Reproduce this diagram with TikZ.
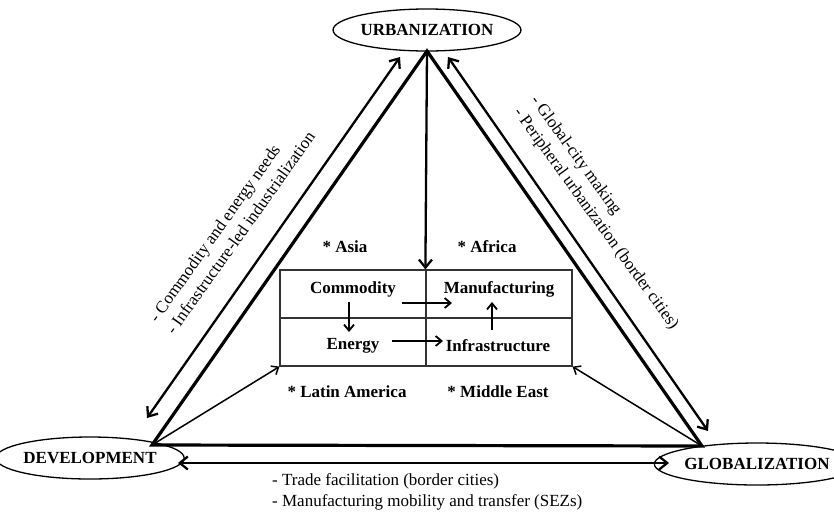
\documentclass[tikz,border=0pt]{standalone}
\usepackage{fontspec}
\setmainfont{Liberation Serif}
\usetikzlibrary{arrows.meta,shapes.geometric}
\begin{document}
\begin{tikzpicture}[x=1pt,y=-1pt,
  font=\fontsize{17}{21}\selectfont,
  pole/.style={draw, ellipse, line width=1.3pt, inner sep=0pt, minimum width=160pt, minimum height=42pt, font=\fontsize{17}{20}\selectfont\bfseries},
  tri/.style={line width=3.2pt, line cap=round},
  head/.tip={Straight Barb[length=8pt,width=13pt]},
  smallhead/.tip={Straight Barb[length=6pt,width=10pt]},
  dbl/.style={line width=2.3pt, {head}-{head}},
  one/.style={line width=2.3pt, -{head}},
  thin/.style={line width=1.5pt, -{smallhead}},
  inner/.style={line width=1.8pt, -{smallhead}},
  cell/.style={draw=black!80, line width=1.2pt, minimum width=146pt, minimum height=48pt, inner sep=0pt},
  lbl/.style={font=\fontsize{17}{20}\selectfont\bfseries, inner sep=0pt},
  note/.style={align=left, inner sep=0pt, anchor=west, font=\fontsize{17}{21}\selectfont}
]
\useasboundingbox (0,0) rectangle (834,512);

% poles
\node[pole] (urb) at (427,30) {URBANIZATION};
\node[pole] (dev) at (90,458) {DEVELOPMENT};
\node[pole] (glo) at (757,464) {GLOBALIZATION};

% triangle vertices
\coordinate (A) at (427,51);
\coordinate (L) at (152,445);
\coordinate (R) at (702,446);

\draw[tri] (A) -- (L) -- (R) -- cycle;

% outer arrows
\coordinate (l1) at (400,57);
\coordinate (l2) at (147,418);
\draw[dbl] (l1) -- (l2);
\coordinate (r1) at (448,57);
\coordinate (r2) at (708,431);
\draw[dbl] (r1) -- (r2);
\coordinate (b1) at (178,463);
\coordinate (b2) at (669,463);
\draw[dbl] (b1) -- (b2);

% box cells
\node[cell] (cC) at (353,294) {};
\node[cell] (cM) at (499,294) {};
\node[cell] (cE) at (353,342) {};
\node[cell] (cI) at (499,342) {};

% arrows into box
\draw[one] (A) -- (cM.north west);
\draw[thin] (L) -- (cE.south west);
\draw[thin] (R) -- (cI.south east);

% cell labels
\node[lbl] (com) at (353,289) {Commodity};
\node[lbl] (man) at (499,289) {Manufacturing};
\node[lbl] (ene) at (353,346) {Energy};
\node[lbl] (inf) at (498,346) {Infrastructure};

\coordinate (cm1) at (402,303);
\coordinate (cm2) at (452,303);
\draw[inner] (cm1) -- (cm2);
\coordinate (ce1) at (349,302);
\coordinate (ce2) at (349,332);
\draw[inner] (ce1) -- (ce2);
\coordinate (ei1) at (392,341);
\coordinate (ei2) at (443,341);
\draw[inner] (ei1) -- (ei2);
\coordinate (im1) at (492,330);
\coordinate (im2) at (492,302);
\draw[inner] (im1) -- (im2);

% regions
\node[lbl] (asia) at (345,247) {* Asia};
\node[lbl] (afr) at (487,247) {* Africa};
\node[lbl] (lat) at (347,392) {* Latin America};
\node[lbl] (mid) at (498,392) {* Middle East};

% side notes
\node[note, rotate=54.5] (lnote) at (161,326) {- Commodity and energy needs\\- Infrastructure-led industrialization};
\node[note, rotate=-54] (rnote) at (525,104) {- Global-city making\\- Peripheral urbanization (border cities)};
\node[note] (bnote) at (272,492) {- Trade facilitation (border cities)\\- Manufacturing mobility and transfer (SEZs)};
\end{tikzpicture}
\end{document}
